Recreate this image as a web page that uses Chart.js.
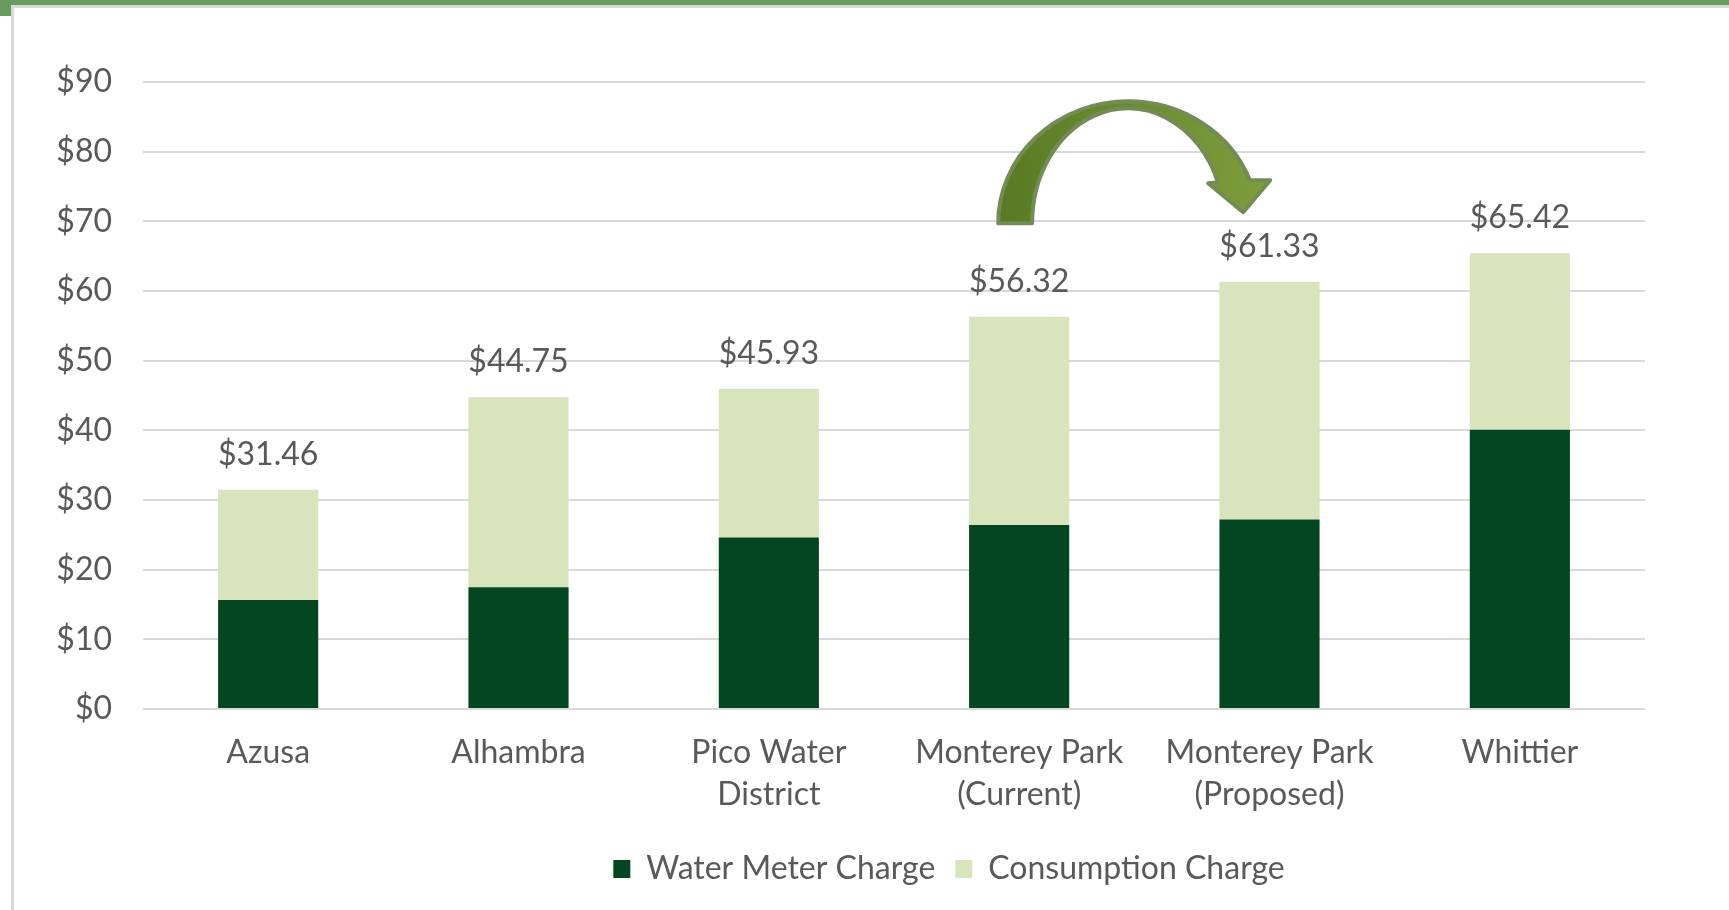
<!DOCTYPE html>
<html>
<head>
<meta charset="utf-8">
<script src="https://cdn.jsdelivr.net/npm/chart.js@4.4.1/dist/chart.umd.min.js"></script>
<style>
  html, body { margin: 0; padding: 0; background: #ffffff; }
  #wrap { position: relative; width: 1729px; height: 910px; overflow: hidden; background: #ffffff; }
  .deco { position: absolute; }
  #c { position: absolute; left: 0; top: 0; }
</style>
</head>
<body>
<div id="wrap">
  <div class="deco" style="left:11px;top:5px;width:1718px;height:3px;background:#D9D9D9;"></div>
  <div class="deco" style="left:11px;top:5px;width:3px;height:905px;background:#D9D9D9;"></div>
  <div class="deco" style="left:0;top:0;width:1729px;height:5px;background:#689B5C;"></div>
  <div class="deco" style="left:0;top:0;width:11px;height:16px;background:#689B5C;"></div>
  <canvas id="c" width="1729" height="910"></canvas>
</div>
<script>
// ---- data ----
const categories = [
  "Azusa",
  "Alhambra",
  ["Pico Water", "District"],
  ["Monterey Park", "(Current)"],
  ["Monterey Park", "(Proposed)"],
  "Whittier"
];
const waterMeterCharge = [15.64, 17.46, 24.63, 26.40, 27.20, 40.10];
const consumptionCharge = [15.82, 27.29, 21.30, 29.92, 34.13, 25.32];
const yTickMin = 0, yTickMax = 90, yTickStep = 10;

const FONT = "Lato";
const TXT = "#595959";

const totalsPlugin = {
  id: "totals",
  afterDatasetsDraw(chart) {
    const ctx = chart.ctx;
    const ys = chart.scales.y;
    const meta = chart.getDatasetMeta(chart.data.datasets.length - 1);
    ctx.save();
    ctx.font = "32px " + FONT;
    ctx.fillStyle = TXT;
    ctx.textAlign = "center";
    ctx.textBaseline = "alphabetic";
    meta.data.forEach((bar, i) => {
      let total = 0;
      chart.data.datasets.forEach(ds => total += ds.data[i]);
      const y = ys.getPixelForValue(total) - 25;
      ctx.fillText("$" + total.toFixed(2), bar.x, y);
    });
    ctx.restore();
  }
};

const legendShift = {
  id: "legendShift",
  afterLayout(chart) {
    const lg = chart.legend;
    if (lg) { lg.left += 120; lg.right += 120; }
  }
};

const arrowPlugin = {
  id: "arrow",
  afterDraw(chart) {
    const xs = chart.scales.x, ys = chart.scales.y;
    const ox = xs.getPixelForValue(3);
    const oy = ys.getPixelForValue(70);
    const ctx = chart.ctx;
    const cx = ox + 109, cy = oy + 2;
    ctx.save();
    ctx.beginPath();
    ctx.ellipse(cx, cy, 130, 122, 0, Math.PI, 2 * Math.PI - 0.36, false);
    ctx.lineTo(ox + 251, oy - 41);
    ctx.lineTo(ox + 224, oy - 9);
    ctx.lineTo(ox + 189, oy - 38);
    ctx.ellipse(cx, cy, 96, 115, 0, 2 * Math.PI - 0.3646, Math.PI, true);
    ctx.closePath();
    const g = ctx.createLinearGradient(ox - 21, 0, ox + 251, 0);
    g.addColorStop(0, "#587A23");
    g.addColorStop(1, "#7E9E3C");
    ctx.fillStyle = g;
    ctx.fill();
    ctx.lineWidth = 4;
    ctx.lineJoin = "round";
    ctx.strokeStyle = "#738C55";
    ctx.stroke();
    ctx.restore();
  }
};

new Chart(document.getElementById("c"), {
  type: "bar",
  data: {
    labels: categories,
    datasets: [
      {
        label: "Water Meter Charge",
        data: waterMeterCharge,
        backgroundColor: "#03461F",
        borderWidth: 0,
        barPercentage: 0.4,
        categoryPercentage: 1.0
      },
      {
        label: "Consumption Charge",
        data: consumptionCharge,
        backgroundColor: "#D8E4BC",
        borderWidth: 0,
        barPercentage: 0.4,
        categoryPercentage: 1.0
      }
    ]
  },
  options: {
    responsive: false,
    animation: false,
    devicePixelRatio: 1,
    layout: { padding: { left: 13, right: 84, top: 82, bottom: 15 } },
    plugins: {
      legend: {
        position: "bottom",
        labels: {
          boxWidth: 17,
          boxHeight: 18,
          padding: 20,
          color: TXT,
          font: { family: FONT, size: 32 }
        }
      },
      tooltip: { enabled: false }
    },
    scales: {
      x: {
        stacked: true,
        grid: { display: false, drawTicks: false },
        border: { display: false },
        ticks: {
          color: TXT,
          padding: 23,
          maxRotation: 0,
          autoSkip: false,
          font: { family: FONT, size: 32, lineHeight: 1.31 }
        },
        afterFit(s) { s.height = 124; }
      },
      y: {
        stacked: true,
        min: yTickMin,
        max: yTickMax,
        grid: { color: "#D9D9D9", lineWidth: 2, drawTicks: false },
        border: { display: false },
        ticks: {
          stepSize: yTickStep,
          color: TXT,
          padding: 31,
          font: { family: FONT, size: 32 },
          callback: v => "$" + v
        },
        afterFit(s) { s.width = 130; }
      }
    }
  },
  plugins: [totalsPlugin, legendShift, arrowPlugin]
});
</script>
</body>
</html>
